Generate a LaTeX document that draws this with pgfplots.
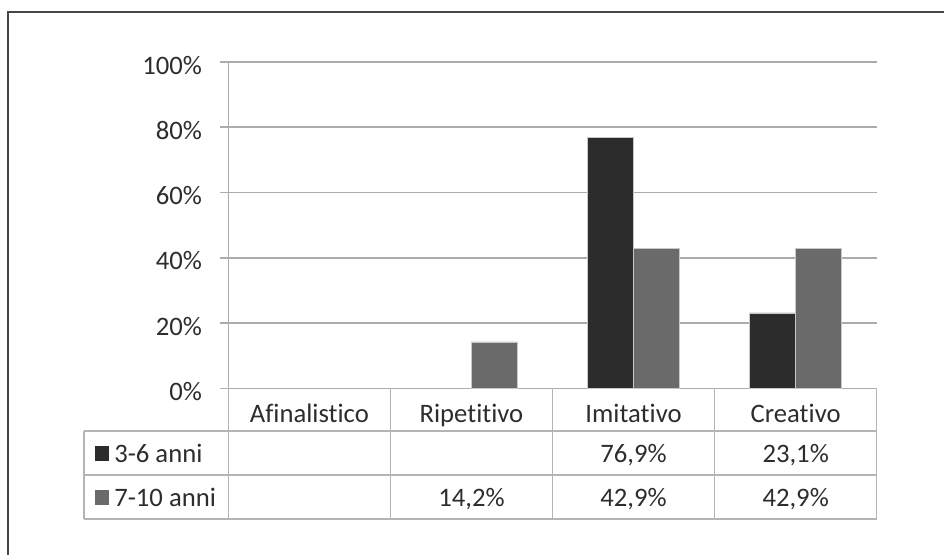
\documentclass[border=0pt]{standalone}
\usepackage{pgfplots}
\pgfplotsset{compat=1.18}
\usepackage{pgfplotstable}
\usepackage{fontspec}
\setmainfont{Carlito}[Ligatures=NoCommon]

\definecolor{serA}{RGB}{44,44,44}
\definecolor{serB}{RGB}{106,106,106}
\definecolor{barline}{RGB}{200,200,200}
\definecolor{gridgray}{RGB}{172,172,172}
\definecolor{tablegray}{RGB}{180,180,180}
\definecolor{txt}{RGB}{45,45,45}
\definecolor{framegray}{RGB}{70,70,70}

% share of each game type per age group (nan = no answers)
\pgfplotstableread{
x a b
0 nan nan
1 nan 14.2
2 76.9 42.9
3 23.1 42.9
}\shares

\begin{document}
\begin{tikzpicture}[x=0.75pt, y=-0.75pt, font=\fontsize{20}{24}\selectfont, text=txt]
\useasboundingbox (0,0) rectangle (944,554);
\clip (0,0) rectangle (944,554);
\draw[framegray, line width=1.5pt] (8,600) -- (8,12) -- (980,12);

\begin{axis}[
  at={(171.225pt,-291.225pt)}, anchor=south west,
  scale only axis, width=486.3pt, height=244.7pt,
  xmin=-0.5, xmax=3.5, ymin=0, ymax=100,
  clip=false,
  axis x line*=bottom, axis y line*=left,
  axis line style={-, draw=gridgray, line width=1.2pt},
  xtick={0,1,2,3},
  xticklabels={Afinalistico,Ripetitivo,Imitativo,Creativo},
  x tick style={draw=none},
  xticklabel style={anchor=base, inner sep=0pt, yshift=-20pt, text=txt},
  ytick={0,20,40,60,80,100},
  yticklabels={0\%,20\%,40\%,60\%,80\%,100\%},
  y tick style={draw=gridgray, line width=1.2pt},
  tick align=outside, major tick length=6pt,
  ytick pos=left,
  yticklabel style={anchor=base east, inner sep=0pt, xshift=-13.5pt, yshift=-9pt, text=txt},
  ymajorgrids, grid style={gridgray, line width=1.2pt},
  /pgf/number format/assume math mode=true,
]
\addplot[ybar, bar width=0.284, bar shift=-0.142, fill=serA, draw=barline, line width=0.6pt]
  table[x=x, y=a] {\shares};
\addplot[ybar, bar width=0.284, bar shift=0.142, fill=serB, draw=barline, line width=0.6pt]
  table[x=x, y=b] {\shares};
% data table rows, printed from the same columns
\addplot[draw=none, mark=none, point meta={\thisrow{a}},
  nodes near coords={\pgfmathprintnumber[fixed,fixed zerofill,precision=1,use comma]{\pgfplotspointmeta}\%},
  nodes near coords style={anchor=base, inner sep=0pt, text=txt}]
  table[x=x, y expr={\thisrow{a}*0-22.8}] {\shares};
\addplot[draw=none, mark=none, point meta={\thisrow{b}},
  nodes near coords={\pgfmathprintnumber[fixed,fixed zerofill,precision=1,use comma]{\pgfplotspointmeta}\%},
  nodes near coords style={anchor=base, inner sep=0pt, text=txt}]
  table[x=x, y expr={\thisrow{b}*0-36.3}] {\shares};
\end{axis}

% table grid
\begin{scope}[tablegray, line width=1.1pt]
\foreach \yy in {431,475,519} \draw (84,\yy) -- (876.7,\yy);
\draw (84,431) -- (84,519);
\foreach \xx in {228.3,390.4,552.5,714.6,876.7} \draw (\xx,388.3) -- (\xx,519);
\end{scope}
% legend keys
\fill[serA] (95,446) rectangle (109,461);
\fill[serB] (95,490) rectangle (109,505);
\node[anchor=base west, inner sep=0pt] at (114,462.7) {3-6 anni};
\node[anchor=base west, inner sep=0pt] at (114,506.7) {7-10 anni};
\end{tikzpicture}
\end{document}
